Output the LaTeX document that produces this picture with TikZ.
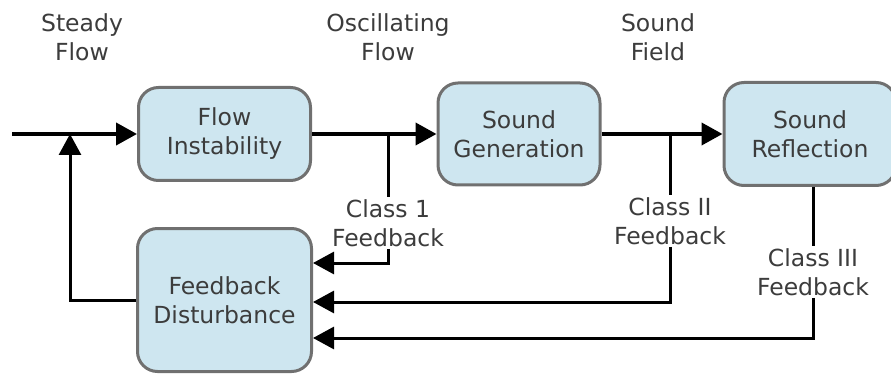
\documentclass[tikz,border=0pt]{standalone}
\usepackage{fontspec}
\setmainfont{DejaVu Sans}
\usepackage{xcolor}
\usepackage{tikz}
\usetikzlibrary{arrows.meta}
\definecolor{boxfill}{RGB}{206,230,240}
\definecolor{boxline}{RGB}{112,112,112}
\definecolor{txtgray}{RGB}{60,60,60}

\begin{document}
\begin{tikzpicture}[x=1pt, y=-1pt,
	block/.style={draw=boxline, line width=3pt, fill=boxfill, rounded corners=20pt, align=center, text=txtgray, font=\fontsize{23.5}{29}\selectfont},
	tag/.style={align=center, inner sep=2pt, text=txtgray, font=\fontsize{23.5}{29}\selectfont},
	flow/.style={line width=4pt, -{Triangle[length=21pt, width=22pt]}},
	wire/.style={line width=3pt},
	fb/.style={line width=3pt, -{Triangle[length=21pt, width=22pt]}}]
		\useasboundingbox (0,0) rectangle (891,374);
		\begin{scope}
		\clip (0,0) rectangle (891,374);
		\node[block, minimum width=172pt, minimum height=93pt] (fi) at (224.5,134) {Flow\\Instability};
		\node[block, minimum width=162pt, minimum height=102pt] (sg) at (519,134) {Sound\\Generation};
		\node[block, minimum width=172pt, minimum height=103pt] (sr) at (810,134) {Sound\\Reflection};
		\node[block, minimum width=174pt, minimum height=143pt] (fd) at (224.5,300) {Feedback\\Disturbance};
		\end{scope}
		\node[tag] (steady) at (82,37) {Steady\\Flow};
		\node[tag] (osc) at (388,37) {Oscillating\\Flow};
		\node[tag] (field) at (658,37) {Sound\\Field};
		\node[tag, fill=white] (c1) at (388,223) {Class 1\\Feedback};
		\node[tag, fill=white] (c2) at (670,221) {Class II\\Feedback};
		\node[tag, fill=white] (c3) at (813,272) {Class III\\Feedback};
		\coordinate (in) at (12,134);
		\coordinate (join) at (70,134);
		\coordinate (t1) at (388,134);
		\coordinate (t2) at (670,134);
		\coordinate (k1) at (388,263);
		\coordinate (k2) at (670,302);
		\coordinate (k3) at (813,338);
		\draw[flow] (in) -- (fi.west);
		\draw[flow] (fi.east) -- (sg.west);
		\draw[flow] (sg.east) -- (sr.west);
		\draw[fb] (fd.west) -| (join);
		\draw[wire] (t1) -- (c1);
		\draw[fb] (c1) -- (k1) -- (k1 -| fd.east);
		\draw[wire] (t2) -- (c2);
		\draw[fb] (c2) -- (k2) -- (k2 -| fd.east);
		\draw[wire] (sr.south -| c3) -- (c3);
		\draw[fb] (c3) -- (k3) -- (k3 -| fd.east);
		\end{tikzpicture}
\end{document}
